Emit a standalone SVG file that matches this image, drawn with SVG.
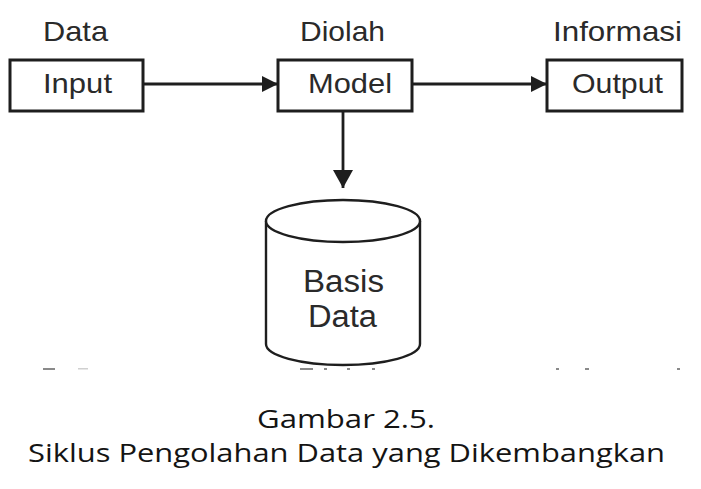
<svg xmlns="http://www.w3.org/2000/svg" width="701" height="489" viewBox="0 0 701 489">
  <style>
    .box { fill: #ffffff; stroke: #1e1e1e; stroke-width: 3; }
    .lbl { font-family: "Liberation Sans", Arial, sans-serif; font-size: 28px; fill: #2a2a2a; }
    .cyl { fill: #ffffff; stroke: #1e1e1e; stroke-width: 2.4; }
    .conn { stroke: #1e1e1e; stroke-width: 2.8; fill: none; }
    .cap { font-family: "Open Sans", "DejaVu Sans", sans-serif; font-size: 26px; fill: #141414; }
    .mark { fill: #8a8a8a; }
  </style>
  <defs>
    <marker id="ah" viewBox="0 0 16 16" refX="16" refY="8" markerWidth="16" markerHeight="16" markerUnits="userSpaceOnUse" orient="auto">
      <path d="M0,0 L16,8 L0,16 Z" fill="#1e1e1e"/>
    </marker>
    <marker id="ahv" viewBox="0 0 18 20" refX="18" refY="10" markerWidth="18" markerHeight="20" markerUnits="userSpaceOnUse" orient="auto">
      <path d="M0,0 L18,10 L0,20 Z" fill="#1e1e1e"/>
    </marker>
  </defs>
  <rect width="701" height="489" fill="#ffffff"/>

  <g id="label-data">
    <text class="lbl" x="43" y="41" textLength="65" lengthAdjust="spacingAndGlyphs">Data</text>
  </g>
  <g id="label-diolah">
    <text class="lbl" x="300" y="41" textLength="85" lengthAdjust="spacingAndGlyphs">Diolah</text>
  </g>
  <g id="label-informasi">
    <text class="lbl" x="553" y="41" textLength="129" lengthAdjust="spacingAndGlyphs">Informasi</text>
  </g>

  <g id="node-input">
    <rect class="box" x="10" y="60" width="133" height="51"/>
    <text class="lbl" x="43" y="93" textLength="69" lengthAdjust="spacingAndGlyphs">Input</text>
  </g>
  <g id="node-model">
    <rect class="box" x="278" y="60" width="134" height="51"/>
    <text class="lbl" x="308" y="93" textLength="84" lengthAdjust="spacingAndGlyphs">Model</text>
  </g>
  <g id="node-output">
    <rect class="box" x="547" y="60" width="135" height="51"/>
    <text class="lbl" x="572" y="93" textLength="91" lengthAdjust="spacingAndGlyphs">Output</text>
  </g>

  <g id="node-basis-data">
    <path class="cyl" d="M266,221 L266,344 A77,21 0 0 0 420,344 L420,221"/>
    <ellipse class="cyl" cx="343" cy="221" rx="77" ry="21"/>
    <text class="lbl" style="font-size:31px" x="303" y="292" textLength="81" lengthAdjust="spacingAndGlyphs">Basis</text>
    <text class="lbl" style="font-size:31px" x="308" y="327" textLength="69" lengthAdjust="spacingAndGlyphs">Data</text>
  </g>

  <g id="connectors">
    <line class="conn" x1="143" y1="84" x2="278" y2="84" marker-end="url(#ah)"/>
    <line class="conn" x1="412" y1="84" x2="547" y2="84" marker-end="url(#ah)"/>
    <line class="conn" x1="343" y1="111" x2="343" y2="188" marker-end="url(#ahv)"/>
  </g>

  <g id="stray-marks">
    <rect class="mark" x="43" y="368" width="12" height="2"/>
    <rect class="mark" x="78" y="368" width="10" height="1.5" opacity="0.4"/>
    <rect class="mark" x="300" y="368" width="13" height="2"/>
    <rect class="mark" x="324" y="368" width="3" height="2"/>
    <rect class="mark" x="347" y="368" width="3" height="2"/>
    <rect class="mark" x="372" y="368" width="3" height="2"/>
    <rect class="mark" x="556" y="368" width="3" height="2"/>
    <rect class="mark" x="585" y="368" width="4" height="2"/>
    <rect class="mark" x="677" y="368" width="3" height="2"/>
  </g>

  <g id="caption">
    <text class="cap" x="257" y="428" textLength="178" lengthAdjust="spacingAndGlyphs">Gambar 2.5.</text>
    <text class="cap" x="28" y="462" textLength="637" lengthAdjust="spacingAndGlyphs">Siklus Pengolahan Data yang Dikembangkan</text>
  </g>
</svg>
